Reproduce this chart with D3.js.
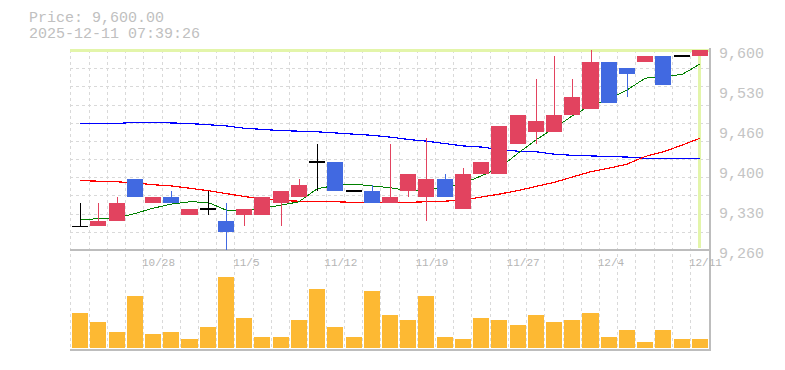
<!DOCTYPE html>
<html>
<head>
<meta charset="utf-8">
<script src="https://cdn.jsdelivr.net/npm/d3@7"></script>
<style>
  html, body { margin: 0; padding: 0; background: #ffffff; }
  svg { display: block; }
  text { font-family: "Liberation Mono", "DejaVu Sans Mono", monospace; }
</style>
</head>
<body>
<svg id="chart" width="785" height="370"></svg>
<script>
// ---- data ----
const dates = ["10/22","10/23","10/24","10/27","10/28","10/29","10/30","10/31","11/4","11/5",
  "11/6","11/7","11/10","11/11","11/12","11/13","11/14","11/17","11/18","11/19",
  "11/20","11/21","11/25","11/26","11/27","11/28","12/1","12/2","12/3","12/4",
  "12/5","12/8","12/9","12/10","12/11"];
const opens  = [9300,9300,9310,9380,9340,9350,9320,9330,9310,9320,
  9320,9340,9350,9410,9410,9360,9360,9340,9360,9350,
  9380,9330,9390,9390,9440,9460,9460,9490,9500,9580,
  9570,9580,9590,9590,9590];
const highs  = [9340,9340,9350,9380,9350,9360,9330,9360,9340,9330,
  9350,9360,9380,9440,9410,9360,9370,9440,9390,9450,
  9390,9400,9410,9470,9490,9550,9590,9550,9600,9580,
  9570,9590,9590,9590,9600];
const lows   = [9300,9300,9310,9350,9340,9340,9320,9320,9260,9300,
  9320,9300,9350,9360,9360,9360,9340,9340,9350,9310,
  9350,9330,9390,9390,9440,9440,9460,9490,9500,9510,
  9520,9580,9540,9590,9590];
const closes = [9300,9310,9340,9350,9350,9340,9330,9330,9290,9330,
  9350,9360,9370,9410,9360,9360,9340,9350,9390,9380,
  9350,9390,9410,9470,9490,9480,9490,9520,9580,9510,
  9560,9590,9540,9590,9600];
const volumes = [350,260,160,520,140,160,90,210,710,300,
  110,110,280,590,210,110,570,330,280,520,
  110,90,300,280,230,330,260,280,350,110,
  180,60,180,90,90];
const ma5  = [9312,9313,9314,9322,9331,9338,9342,9341,9328,9326,
  9331,9336,9342,9364,9370,9372,9369,9366,9361,9362,
  9367,9373,9386,9399,9424,9447,9467,9488,9506,9516,
  9532,9552,9556,9558,9576];
const ma25 = [9378,9377,9376,9374,9371,9369,9365,9361,9356,9351,
  9347,9344,9343,9342,9342,9341,9341,9341,9341,9342,
  9343,9345,9350,9355,9361,9368,9375,9384,9393,9399,
  9406,9419,9427,9438,9450];
const ma75 = [9475,9475,9475,9477,9477,9476,9475,9473,9471,9467,
  9465,9463,9462,9461,9459,9457,9455,9452,9448,9445,
  9441,9437,9435,9431,9428,9427,9423,9421,9420,9419,
  9418,9416,9416,9416,9416];
const yTickValues = [9260,9328,9396,9464,9532,9600];
const yTickLabels = ["9,260","9,330","9,400","9,460","9,530","9,600"];
const xLabelDates = ["10/28","11/5","11/12","11/19","11/27","12/4","12/11"];
const titleLines = ["Price: 9,600.00","2025-12-11 07:39:26"];
const lastPrice = 9600;

// ---- layout ----
const L = 70, R = 710, PT = 50, PB = 250, VB = 350;
const svg = d3.select("#chart");

const x = d3.scaleBand().domain(d3.range(dates.length)).range([71, 709]).paddingInner(0.12).paddingOuter(0.06);
const step = x.step();
const cx = i => x(i) + x.bandwidth() / 2;
const y = d3.scaleLinear().domain([9260, 9600]).range([PB, PT]);
const yv = d3.scaleLinear().domain([0, 1000]).range([348, 248]);

const gridColor = "#d9d9d9";
const grid = svg.append("g").attr("shape-rendering", "crispEdges");
// horizontal grid (price)
d3.range(1, 11).forEach(k => {
  const yy = Math.round(y(9260 + k * (9600 - 9260) / 11)) + 0.5;
  grid.append("line").attr("x1", L).attr("x2", R).attr("y1", yy).attr("y2", yy)
    .attr("stroke", gridColor).attr("stroke-dasharray", "3,3");
});
// vertical grid (both panes)
const vx = [L].concat(d3.range(0, dates.length - 1).map(i => Math.round(cx(i) + step / 2 - 0.6)));
vx.forEach(xx => {
  grid.append("line").attr("x1", xx + 0.5).attr("x2", xx + 0.5).attr("y1", PT).attr("y2", VB)
    .attr("stroke", gridColor).attr("stroke-dasharray", "3,3");
});

// current price highlight lines
const hl = "#e3f5aa";
svg.append("line").attr("x1", L).attr("x2", R).attr("y1", y(lastPrice)).attr("y2", y(lastPrice))
  .attr("stroke", hl).attr("stroke-width", 3).attr("shape-rendering", "crispEdges");
svg.append("line").attr("x1", cx(dates.length - 1)).attr("x2", cx(dates.length - 1))
  .attr("y1", PT).attr("y2", PB - 2)
  .attr("stroke", hl).attr("stroke-width", 3).attr("shape-rendering", "crispEdges");

// frame
const frame = svg.append("g").attr("shape-rendering", "crispEdges").attr("stroke", "#bdbdbd").attr("stroke-width", 2);
frame.append("line").attr("x1", L).attr("x2", R + 1).attr("y1", PB).attr("y2", PB);
frame.append("line").attr("x1", L).attr("x2", R + 1).attr("y1", VB).attr("y2", VB);
frame.append("line").attr("x1", R).attr("x2", R).attr("y1", PT - 2).attr("y2", VB);

// moving averages
const lineGen = d3.line().x((d, i) => cx(i)).y(d => y(d));
[[ma75, "#0000ff", 1.2], [ma25, "#ff0000", 1.2], [ma5, "#008000", 1]].forEach(([arr, col, w]) => {
  svg.append("path").datum(arr).attr("d", lineGen).attr("fill", "none")
    .attr("stroke", col).attr("stroke-width", w).attr("shape-rendering", "crispEdges");
});

// candles
const upCol = "#e2435f", downCol = "#4169e1";
const cg = svg.append("g").attr("shape-rendering", "crispEdges");
dates.forEach((d, i) => {
  const o = opens[i], c = closes[i], h = highs[i], l = lows[i];
  const xc = Math.round(cx(i)) + 0.5;
  const bx = x(i), bw = x.bandwidth();
  if (o === c) {
    if (h > l) cg.append("line").attr("x1", xc).attr("x2", xc).attr("y1", y(h)).attr("y2", y(l))
      .attr("stroke", "#000").attr("stroke-width", 1.5);
    cg.append("line").attr("x1", bx).attr("x2", bx + bw).attr("y1", y(c)).attr("y2", y(c))
      .attr("stroke", "#000").attr("stroke-width", 1.5);
  } else {
    const col = c > o ? upCol : downCol;
    if (h > l) cg.append("line").attr("x1", xc).attr("x2", xc).attr("y1", y(h)).attr("y2", y(l))
      .attr("stroke", col).attr("stroke-width", 1);
    const top = y(Math.max(o, c)), bot = y(Math.min(o, c));
    cg.append("rect").attr("x", bx).attr("y", top).attr("width", bw).attr("height", Math.max(1, bot - top))
      .attr("fill", col);
  }
});

// volume bars
svg.append("g").attr("shape-rendering", "crispEdges").selectAll("rect").data(volumes).join("rect")
  .attr("x", (d, i) => x(i)).attr("width", x.bandwidth())
  .attr("y", d => yv(d)).attr("height", d => yv(0) - yv(d))
  .attr("fill", "#fdb933");

// y axis labels
yTickValues.forEach((v, k) => {
  svg.append("text").attr("x", 719).attr("y", y(v) + 8).attr("font-size", 15)
    .attr("fill", "#c4c4c4").text(yTickLabels[k]);
});

// x axis labels
xLabelDates.forEach(lbl => {
  const i = dates.indexOf(lbl);
  svg.append("text").attr("x", cx(i) - 11).attr("y", 266).attr("font-size", 11)
    .attr("fill", "#b5b5b5").text(lbl);
});

// title
titleLines.forEach((t, k) => {
  svg.append("text").attr("x", 29).attr("y", 22 + k * 16).attr("font-size", 15)
    .attr("fill", "#c0c0c0").text(t);
});
</script>
</body>
</html>
